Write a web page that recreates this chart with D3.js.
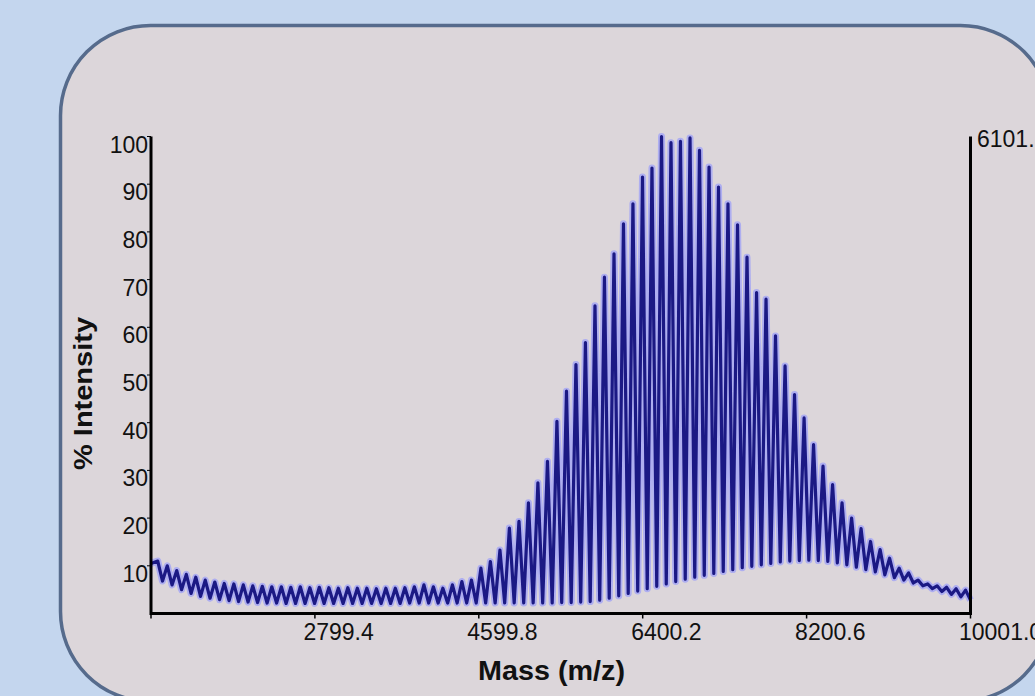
<!DOCTYPE html>
<html>
<head>
<meta charset="utf-8">
<script src="https://cdn.jsdelivr.net/npm/d3@7"></script>
<style>
  body { margin: 0; background: #c4d6ee; overflow: hidden; }
  text { font-family: "Liberation Sans", Arial, sans-serif; fill: #111; }
</style>
</head>
<body>
<svg width="1035" height="696"></svg>
<script>
// axis settings
var massRange = [999.0, 10001.0];
var xTicks = [999.0, 2799.4, 4599.8, 6400.2, 8200.6, 10001.0];
var xTickLabels = ["", "2799.4", "4599.8", "6400.2", "8200.6", "10001.0"];
var yTicks = [10, 20, 30, 40, 50, 60, 70, 80, 90, 100];
var topCount = "6101.2";

// spectrum: intensity at the low mass end and at the high mass end
var startInt = 10.5;
var endInt = 2.8;

// peak apex masses (m/z)
var peakMass = [
  1073, 1178, 1282, 1387, 1491, 1595, 1700, 1804, 1909, 2013,
  2117, 2222, 2326, 2431, 2535, 2639, 2744, 2848, 2953, 3057,
  3161, 3266, 3370, 3475, 3579, 3683, 3788, 3892, 3997,
  4101, 4205, 4310, 4414, 4519, 4623, 4727, 4832, 4936, 5041,
  5145, 5249, 5354, 5458, 5563, 5667, 5771, 5876, 5980, 6085,
  6189, 6293, 6398, 6502, 6607, 6711, 6815, 6920, 7024, 7129,
  7233, 7337, 7442, 7546, 7651, 7755, 7859, 7964, 8068, 8173,
  8277, 8381, 8486, 8590, 8695, 8799, 8903, 9008, 9112, 9217,
  9321, 9425, 9530, 9634, 9739, 9843, 9947
];

// peak apex intensities (%)
var peakInt = [
  11.0, 10.0, 9.0, 8.2, 7.6, 7.0, 6.6, 6.3, 6.2, 6.0,
  5.8, 5.7, 5.6, 5.6, 5.5, 5.6, 5.4, 5.5, 5.4, 5.3,
  5.4, 5.3, 5.3, 5.2, 5.3, 5.3, 5.4, 5.6, 6.0,
  5.6, 5.3, 6.0, 6.7, 7.0, 9.5, 10.9, 13.3, 17.9, 19.3,
  23.2, 27.4, 31.9, 40.3, 46.6, 52.2, 56.8, 64.5, 70.5, 75.4,
  81.7, 85.9, 91.5, 93.4, 100.0, 98.7, 99.0, 99.7, 97.1, 93.6,
  89.4, 85.9, 81.5, 74.7, 67.3, 65.9, 58.2, 51.9, 45.9, 41.0,
  35.4, 30.9, 27.0, 23.2, 20.0, 17.8, 15.1, 13.4, 11.6, 9.5,
  8.5, 7.0, 6.2, 5.8, 5.5, 5.2, 4.9
];

// valley intensities (%) between neighbouring peaks
var valleyInt = [
  6.8, 6.0, 5.0, 4.2, 3.6, 3.2, 2.9, 2.7, 2.5, 2.4,
  2.3, 2.2, 2.2, 2.1, 2.1, 2.1, 2.1, 2.1, 2.1, 2.1,
  2.1, 2.1, 2.1, 2.1, 2.1, 2.1, 2.2, 2.2, 2.2,
  2.2, 2.2, 2.2, 2.2, 2.2, 2.2, 2.2, 2.2, 2.2, 2.2,
  2.2, 2.2, 2.2, 2.3, 2.3, 2.4, 2.5, 2.8, 3.2, 3.7,
  4.2, 4.7, 5.2, 5.7, 6.2, 6.7, 7.2, 7.6, 8.0, 8.4,
  8.8, 9.2, 9.6, 9.9, 10.2, 10.5, 10.8, 11.0, 11.1, 11.2,
  11.1, 10.9, 10.6, 10.2, 9.7, 9.2, 8.7, 8.1, 7.5, 7.0,
  6.4, 5.8, 5.2, 4.6, 4.0, 3.5
];

var svg = d3.select("svg");

// rounded panel
svg.append("rect")
  .attr("x", 60.5).attr("y", 25.5)
  .attr("width", 990).attr("height", 676)
  .attr("rx", 90).attr("ry", 90)
  .attr("fill", "#dcd6da")
  .attr("stroke", "#566b8c")
  .attr("stroke-width", 3.5);

var x = d3.scaleLinear().domain(massRange).range([151, 970.5]);
var y = d3.scaleLinear().domain([0, 100]).range([613.5, 136.5]);

// build the trace: start, then apex / valley alternating
var pts = [[massRange[0], startInt]];
for (var i = 0; i < peakMass.length; i++) {
  pts.push([peakMass[i], peakInt[i]]);
  if (i < peakMass.length - 1) {
    pts.push([(peakMass[i] + peakMass[i + 1]) / 2, valleyInt[i]]);
  }
}
pts.push([massRange[1], endInt]);

var line = d3.line()
  .x(function(d) { return x(d[0]); })
  .y(function(d) { return y(d[1]); });

var g = {
  trace: svg.append("g").attr("id", "trace"),
  axes: svg.append("g").attr("id", "axes"),
  labels: svg.append("g").attr("id", "labels")
};

// light halo under the trace, then the dark line
g.trace.append("path")
  .datum(pts)
  .attr("d", line)
  .attr("fill", "none")
  .attr("stroke", "#aeaef0")
  .attr("stroke-width", 7)
  .attr("stroke-linejoin", "round");

g.trace.append("path")
  .datum(pts)
  .attr("d", line)
  .attr("fill", "none")
  .attr("stroke", "#1b1984")
  .attr("stroke-width", 3.2)
  .attr("stroke-linejoin", "round");

// axis frame (left, bottom, right)
g.axes.append("path")
  .attr("d", "M" + x.range()[0] + "," + y.range()[1] +
             "V" + y.range()[0] +
             "H" + x.range()[1] +
             "V" + y.range()[1])
  .attr("fill", "none")
  .attr("stroke", "#000")
  .attr("stroke-width", 3);

// x ticks
g.axes.selectAll("line.xtick")
  .data(xTicks)
  .enter()
  .append("line")
  .attr("class", "xtick")
  .attr("x1", function(d) { return x(d); })
  .attr("x2", function(d) { return x(d); })
  .attr("y1", y(0))
  .attr("y2", y(0) + 5)
  .attr("stroke", "#000")
  .attr("stroke-width", 1.5);

g.labels.selectAll("text.xlab")
  .data(xTicks)
  .enter()
  .append("text")
  .attr("class", "xlab")
  .attr("x", function(d) { return x(d) - 11.5; })
  .attr("y", 640)
  .style("font-size", "23px")
  .text(function(d, i) { return xTickLabels[i]; });

// y ticks
g.axes.selectAll("line.ytick")
  .data(yTicks)
  .enter()
  .append("line")
  .attr("class", "ytick")
  .attr("x1", x.range()[0] - 4)
  .attr("x2", x.range()[0])
  .attr("y1", function(d) { return y(d); })
  .attr("y2", function(d) { return y(d); })
  .attr("stroke", "#000")
  .attr("stroke-width", 1);

g.labels.selectAll("text.ylab")
  .data(yTicks)
  .enter()
  .append("text")
  .attr("class", "ylab")
  .attr("x", 148)
  .attr("y", function(d) { return y(d) + 16; })
  .attr("text-anchor", "end")
  .style("font-size", "23px")
  .text(function(d) { return d; });

// right axis count label (cut by the frame edge, as in the original)
g.labels.append("text")
  .attr("x", 977)
  .attr("y", 147)
  .style("font-size", "23px")
  .text(topCount);

// axis titles
g.labels.append("text")
  .attr("transform", "translate(92,393.5) rotate(-90)")
  .attr("text-anchor", "middle")
  .attr("textLength", 153)
  .attr("lengthAdjust", "spacingAndGlyphs")
  .style("font-size", "26px")
  .style("font-weight", "bold")
  .text("% Intensity");

g.labels.append("text")
  .attr("x", 478)
  .attr("y", 680)
  .attr("textLength", 147)
  .attr("lengthAdjust", "spacingAndGlyphs")
  .style("font-size", "27px")
  .style("font-weight", "bold")
  .text("Mass (m/z)");
</script>
</body>
</html>
